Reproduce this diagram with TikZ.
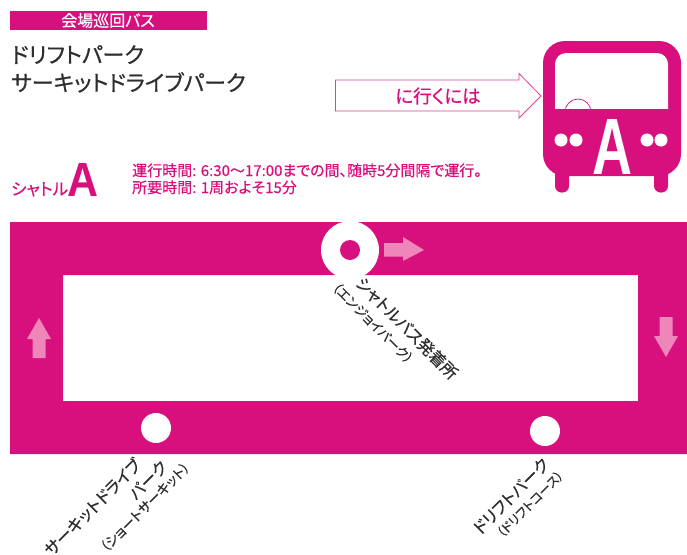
\documentclass[tikz,border=0pt]{standalone}
\usepackage{fontspec}
\usepackage{graphicx}
\setmainfont{Noto Sans CJK JP}[RawFeature=+palt,FakeBold=0.6]
\newfontfamily\latinbold{Liberation Sans}[BoldFont=* Bold]
\definecolor{mag}{HTML}{D8107E}
\definecolor{pale}{HTML}{EE86B9}
\definecolor{ink}{HTML}{2E2E2E}
\newcommand{\fs}[1]{\fontsize{#1}{#1}\selectfont}
\tikzset{
  x=1pt,y=-1pt,
  title/.style={anchor=base west,inner sep=0,text=ink,font=\fs{22}},
  info/.style={anchor=base west,inner sep=0,text=mag,font=\fs{15}},
  big/.style={inner sep=0,text=ink,font=\fs{16.4}},
  small/.style={inner sep=0,text=ink,font=\fs{13}},
  flow/.style={fill=pale,draw=none},
  stop/.style={circle,fill=white,draw=none,inner sep=0},
  lamp/.style={circle,fill=white,draw=none,inner sep=0,minimum size=13pt},
  wheel/.style={fill=mag,draw=none,rounded corners=6.5pt},
}
\begin{document}
\begin{tikzpicture}
\useasboundingbox (0,0) rectangle (687,554);
% header
\fill[mag] (10,11) rectangle (207,30);
\node[inner sep=0,text=white,font=\fs{16}] (hdr) at (108,20.5) {会場巡回バス};
\node[title] (t1) at (11,63) {ドリフトパーク};
\node[title] (t2) at (11,91) {サーキットドライブパーク};
% arrow
\draw[mag!80,line width=0.8pt,fill=white] (335.5,80) -- (519,80) -- (519,73.5) -- (541,96) -- (519,118) -- (519,111) -- (335.5,111) -- cycle;
\node[inner sep=0,text=mag,font=\fs{18.5}] (go) at (438,96) {に行くには};
% bus
\fill[wheel] (555,165) rectangle (569,192.5);
\fill[wheel] (654,165) rectangle (668,192.5);
\fill[mag,rounded corners=22pt] (543,41) rectangle (681,176);
\fill[white,rounded corners=11pt] (555,53) -- (668,53) -- (668,120) -- (555,120) -- cycle;
\fill[mag] (550,109) rectangle (675,125);
\begin{scope}
\clip (550,90) rectangle (675,109);
\draw[mag,line width=0.7pt] (578,112) circle (13);
\end{scope}
\node[lamp] (l1) at (561,140) {};
\node[lamp] (l2) at (576,140) {};
\node[lamp] (l3) at (647,140) {};
\node[lamp] (l4) at (661,140) {};
\node[inner sep=0,text=white] (busA) at (612,146.5) {\resizebox{40pt}{55pt}{\latinbold\bfseries A}};
% shuttle line
\node[anchor=base west,inner sep=0,text=mag,font=\fs{16.5}] (sh) at (11,195) {シャトル};
\node[anchor=base west,inner sep=0,text=mag] (shA) at (67,196) {\resizebox{31pt}{33pt}{\latinbold\bfseries A}};
\node[info] (i1) at (132,176) {運行時間: 6:30〜17:00までの間、随時5分間隔で運行。};
\node[info] (i2) at (132,193) {所要時間: 1周およそ15分};
% route
\fill[mag,even odd rule] (10,222) rectangle (687,454) (63,275) rectangle (638,401);
\node[stop,minimum size=58pt] (s1) at (350,250) {};
\node[circle,fill=mag,inner sep=0,minimum size=20pt] (s1c) at (350,250) {};
\node[stop,minimum size=30pt] (s2) at (156,428) {};
\node[stop,minimum size=30pt] (s3) at (545,431) {};
\fill[flow] (384,243) -- (403,243) -- (403,237) -- (424,250) -- (403,261) -- (403,256.5) -- (384,256.5) -- cycle;
\fill[flow] (32.5,358) -- (32.5,339) -- (27,339) -- (39,318) -- (51,339) -- (45.5,339) -- (45.5,358) -- cycle;
\fill[flow] (659.5,317) -- (659.5,336) -- (654,336) -- (666,357) -- (678,336) -- (672.5,336) -- (672.5,317) -- cycle;
% labels
\node[big,rotate=-45] (a1) at (407,328) {シャトルバス発着所};
\node[small,rotate=-45] (a2) at (373,323) {（エンジョイパーク）};
\node[big,rotate=45] (b1) at (92.5,507) {サーキットドライブ};
\node[big,rotate=45] (b2) at (148,480) {パーク};
\node[small,rotate=45,font=\fs{13.5}] (b3) at (145,507) {（ショートサーキット）};
\node[big,rotate=45] (c1) at (511,496) {ドリフトパーク};
\node[small,rotate=45,font=\fs{12.5}] (c2) at (530,504) {（ドリフトコース）};
\end{tikzpicture}
\end{document}
